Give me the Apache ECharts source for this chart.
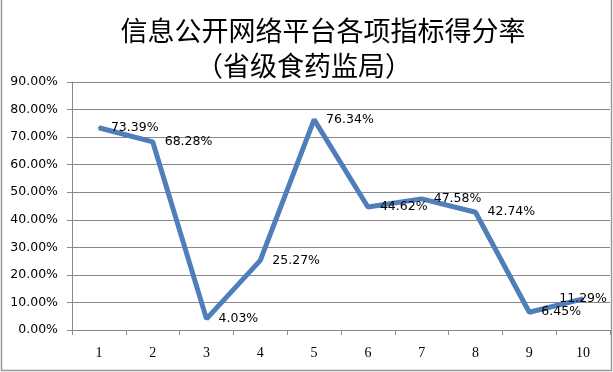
<!DOCTYPE html>
<html>
<head>
<meta charset="utf-8">
<script src="https://cdn.jsdelivr.net/npm/echarts@6/dist/echarts.min.js"></script>
<style>
html,body{margin:0;padding:0;background:#fff;}
#chart{width:613px;height:372px;}
</style>
</head>
<body>
<div id="chart"></div>
<script>
var titleLine1 = '信息公开网络平台各项指标得分率';
var titleLine2 = '（省级食药监局）';
var categories = ['1','2','3','4','5','6','7','8','9','10'];
var scores = [73.39, 68.28, 4.03, 25.27, 76.34, 44.62, 47.58, 42.74, 6.45, 11.29];
var yTicks = [0, 10, 20, 30, 40, 50, 60, 70, 80, 90];

var chart = echarts.init(document.getElementById('chart'));
var lineColor = '#4F7EBA';
var gridColor = '#8a8a8a';

var seriesData = scores.map(function (v, i) {
  var item = { value: v };
  if (i === scores.length - 1) {
    item.label = { position: 'inside' };
  }
  return item;
});

chart.setOption({
  animation: false,
  backgroundColor: '#fff',
  title: [
    { text: titleLine1, left: 318, top: 12, textAlign: 'center',
      textStyle: { fontFamily: 'Noto Sans CJK SC', fontSize: 27, fontWeight: 'normal', color: '#000' } },
    { text: titleLine2, left: 299, top: 47, textAlign: 'center',
      textStyle: { fontFamily: 'Noto Sans CJK SC', fontSize: 27, fontWeight: 'normal', color: '#000' } }
  ],
  grid: { left: 72, right: 3, top: 82, bottom: 42 },
  xAxis: {
    type: 'category',
    data: categories,
    boundaryGap: true,
    axisLine: { lineStyle: { color: gridColor, width: 1 } },
    axisTick: { show: true, length: 5, alignWithLabel: false, lineStyle: { color: gridColor } },
    axisLabel: { margin: 16, color: '#000', fontFamily: 'Liberation Serif', fontSize: 14 },
    splitLine: { show: false }
  },
  yAxis: {
    type: 'value',
    min: yTicks[0],
    max: yTicks[yTicks.length - 1],
    interval: 10,
    axisLine: { show: true, lineStyle: { color: gridColor, width: 1 } },
    axisTick: { show: true, length: 5, lineStyle: { color: gridColor } },
    axisLabel: {
      margin: 14, color: '#000', fontFamily: 'DejaVu Sans', fontSize: 12.5,
      formatter: function (v) { return v.toFixed(2) + '%'; }
    },
    splitLine: { show: true, lineStyle: { color: gridColor, width: 1 } }
  },
  series: [{
    type: 'line',
    data: seriesData,
    symbol: 'circle',
    symbolSize: 2,
    itemStyle: { color: lineColor },
    lineStyle: { color: lineColor, width: 5 },
    label: {
      show: true,
      position: 'right',
      distance: 11,
      color: '#000',
      fontFamily: 'DejaVu Sans',
      fontSize: 12.5,
      formatter: function (p) { return p.value.toFixed(2) + '%'; }
    }
  }],
  graphic: [
    { type: 'line', shape: { x1: 1.5, y1: 0, x2: 1.5, y2: 370.5 }, style: { stroke: '#999', lineWidth: 1.5 } },
    { type: 'line', shape: { x1: 611.5, y1: 0, x2: 611.5, y2: 370.5 }, style: { stroke: '#999', lineWidth: 1.5 } },
    { type: 'line', shape: { x1: 1, y1: 370.5, x2: 612, y2: 370.5 }, style: { stroke: '#999', lineWidth: 1.5 } }
  ]
});
</script>
</body>
</html>
